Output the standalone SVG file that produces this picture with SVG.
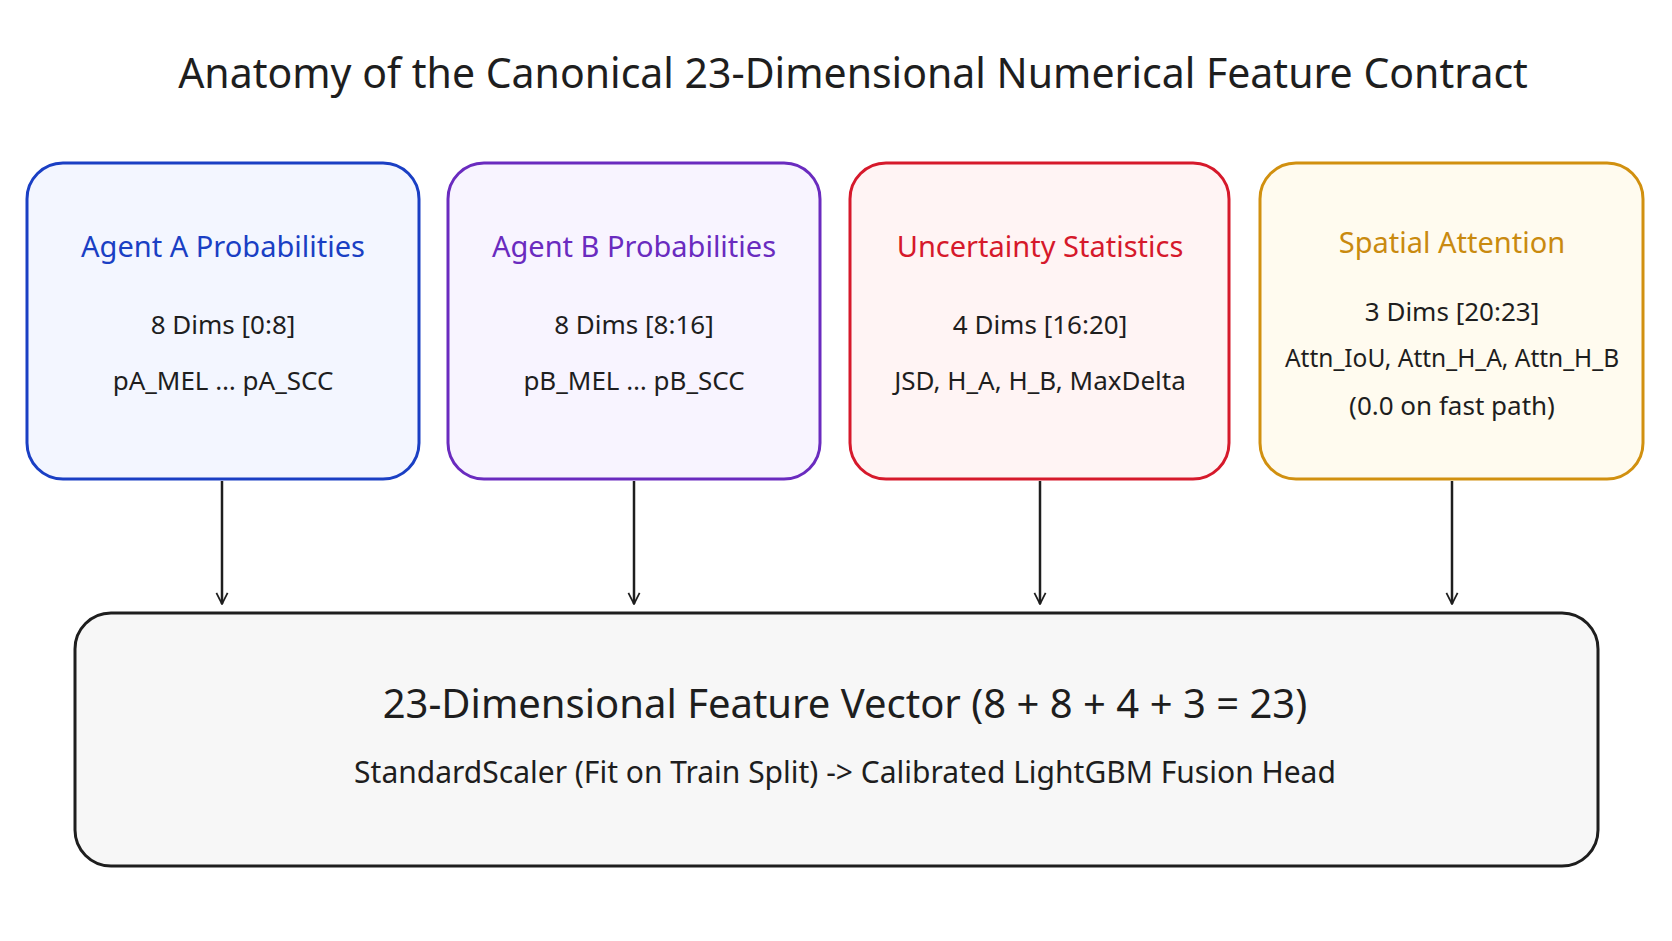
<svg xmlns="http://www.w3.org/2000/svg" width="1672" height="941" viewBox="0 0 1672 941">
<style>
text{font-family:"Noto Sans","Liberation Sans",sans-serif;text-anchor:middle;fill:#1e1e1e}
.h{font-size:29px}
.t{font-size:26px}
.box{stroke-width:3}
.conn path{stroke:#1e1e1e;stroke-width:2.5;fill:none}
</style>
<defs>
<marker id="ah" viewBox="0 0 20 20" refX="18" refY="10" markerWidth="14" markerHeight="14" orient="auto" markerUnits="userSpaceOnUse">
<path d="M2,2 L18,10 L2,18" fill="none" stroke="#1e1e1e" stroke-width="2.5"/>
</marker>
</defs>
<rect width="1672" height="941" fill="#ffffff"/>
<text x="853" y="88" style="font-size:41px">Anatomy of the Canonical 23-Dimensional Numerical Feature Contract</text>
<g id="agentA">
<rect class="box" x="27" y="163" width="392" height="316" rx="36" fill="#f3f6ff" stroke="#1a3fc4"/>
<text class="h" x="223" y="257" style="fill:#1a3fc4">Agent A Probabilities</text>
<text class="t" x="223" y="334">8 Dims [0:8]</text>
<text class="t" x="223" y="390">pA_MEL … pA_SCC</text>
</g>
<g id="agentB">
<rect class="box" x="448" y="163" width="372" height="316" rx="36" fill="#f8f4ff" stroke="#6a2bbf"/>
<text class="h" x="634" y="257" style="fill:#6a2bbf">Agent B Probabilities</text>
<text class="t" x="634" y="334">8 Dims [8:16]</text>
<text class="t" x="634" y="390">pB_MEL … pB_SCC</text>
</g>
<g id="uncert">
<rect class="box" x="850" y="163" width="379" height="316" rx="36" fill="#fff4f4" stroke="#d6192b"/>
<text class="h" x="1040" y="257" style="fill:#d6192b">Uncertainty Statistics</text>
<text class="t" x="1040" y="334">4 Dims [16:20]</text>
<text class="t" x="1040" y="390">JSD, H_A, H_B, MaxDelta</text>
</g>
<g id="spatial">
<rect class="box" x="1260" y="163" width="383" height="316" rx="36" fill="#fffbef" stroke="#d1900f"/>
<text class="h" x="1452" y="253" style="fill:#c98a0f">Spatial Attention</text>
<text class="t" x="1452" y="321">3 Dims [20:23]</text>
<text class="t" x="1452" y="367" style="font-size:24.5px">Attn_IoU, Attn_H_A, Attn_H_B</text>
<text class="t" x="1452" y="415">(0.0 on fast path)</text>
</g>
<g id="vector">
<rect class="box" x="75" y="613" width="1523" height="253" rx="36" fill="#f7f7f7" stroke="#1e1e1e"/>
<text x="845" y="718" style="font-size:40px">23-Dimensional Feature Vector (8 + 8 + 4 + 3 = 23)</text>
<text x="845" y="783" style="font-size:30px">StandardScaler (Fit on Train Split) -&gt; Calibrated LightGBM Fusion Head</text>
</g>
<g class="conn" id="connectors">
<path d="M222,481 L222,604" marker-end="url(#ah)"/>
<path d="M634,481 L634,604" marker-end="url(#ah)"/>
<path d="M1040,481 L1040,604" marker-end="url(#ah)"/>
<path d="M1452,481 L1452,604" marker-end="url(#ah)"/>
</g>
</svg>
